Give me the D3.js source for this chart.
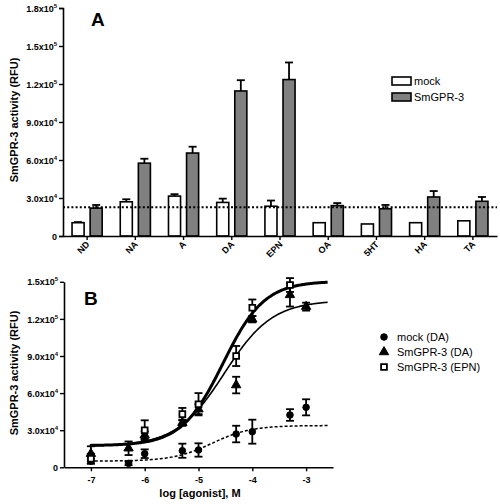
<!DOCTYPE html>
<html><head><meta charset="utf-8">
<script src="https://cdn.jsdelivr.net/npm/d3@7"></script>
<style>
body{margin:0;background:#fff;}
svg{display:block;}
svg text{font-family:"Liberation Sans",Arial,sans-serif;}
</style></head>
<body><svg id="c" width="500" height="504"></svg>
<script>
// ---- Panel A data ----
const categories = ["ND","NA","A","DA","EPN","OA","5HT","HA","TA"];
const groups = ["mock","SmGPR-3"];
const mockMeans = [10500, 27000, 31500, 26500, 23500, 10500, 9500, 10500, 12000];
const mockErr   = [500, 2000, 1500, 3000, 4500, 0, 0, 0, 0];
const smMeans   = [22000, 57500, 65500, 114500, 123500, 24000, 21500, 30800, 27400];
const smErr     = [2500, 3500, 5000, 8500, 13500, 2000, 3000, 4700, 3400];
const baselineA = 22600;
const yTicksA = [0, 30000, 60000, 90000, 120000, 150000, 180000];

// ---- Panel B data ----
const dosesDA   = [-7, -6.3, -6, -5.3, -5, -4.3, -4, -3.3, -3];
const mockDA    = [5000, 3200, 11000, 13400, 14000, 26900, 28800, 42300, 48500];
const mockDAerr = [2000, 1500, 3500, 5700, 5400, 6700, 9700, 4700, 6500];
const smDA      = [11000, 15400, 26000, 36000, 47000, 66500, 119700, 139400, 129900];
const smDAerr   = [6000, 5500, 3000, 2500, 4000, 6700, 2500, 9400, 3200];
const dosesEPN  = [-7, -6, -5.3, -5, -4.3, -4, -3.3];
const smEPN     = [7000, 30000, 43000, 51000, 90000, 129000, 147400];
const smEPNerr  = [4000, 8000, 5000, 9000, 8100, 6700, 5600];
// fitted sigmoid parameters: [bottom, top, logEC50, hill]
const fitMockDA = [5000, 33800, -4.75, 1.2];
const fitSmDA   = [17000, 135000, -4.52, 0.975];
const fitSmEPN  = [17500, 150500, -4.545, 1.13];
const xTicksB = [-7, -6, -5, -4, -3];
const yTicksB = [0, 30000, 60000, 90000, 120000, 150000];
const legendB = ["mock (DA)", "SmGPR-3 (DA)", "SmGPR-3 (EPN)"];

const svg = d3.select("#c");

function sciLabel(sel, v){
  if (v === 0){ sel.text("0"); return; }
  const e = Math.floor(Math.log10(v));
  const m = (v / Math.pow(10, e)).toFixed(1);
  sel.text(m + "x10");
  sel.append("tspan").attr("dy", -4).attr("font-size", 6).text(e);
}
function styleAxis(ax){
  ax.attr("font-family", null).attr("font-size", null);
  ax.select(".domain").attr("stroke-width", 1.6);
  ax.selectAll(".tick line").attr("stroke-width", 1.4);
}

// ================= Panel A =================
const xA = d3.scaleBand(categories, [63, 497]);
const xSub = d3.scaleBand(groups, [0, xA.bandwidth()]).paddingInner(1/3).paddingOuter(0.5);
const yA = d3.scaleLinear([0, 180000], [236, 8]);

const gA = svg.append("g");
const barData = [];
categories.forEach((c, i) => {
  barData.push({c, g: "mock", v: mockMeans[i], e: mockErr[i]});
  barData.push({c, g: "SmGPR-3", v: smMeans[i], e: smErr[i]});
});
gA.selectAll("g.eb").data(barData.filter(d => d.e > 0)).join("g").each(function(d){
  const cx = xA(d.c) + xSub(d.g) + xSub.bandwidth()/2;
  const g = d3.select(this);
  g.append("line").attr("x1", cx).attr("x2", cx).attr("y1", yA(d.v)).attr("y2", yA(d.v + d.e))
    .attr("stroke", "#000").attr("stroke-width", 1.8);
  g.append("line").attr("x1", cx - 4).attr("x2", cx + 4).attr("y1", yA(d.v + d.e)).attr("y2", yA(d.v + d.e))
    .attr("stroke", "#000").attr("stroke-width", 1.8);
});
gA.selectAll("rect.bar").data(barData).join("rect")
  .attr("x", d => xA(d.c) + xSub(d.g))
  .attr("y", d => yA(d.v))
  .attr("width", xSub.bandwidth())
  .attr("height", d => yA(0) - yA(d.v))
  .attr("fill", d => d.g === "mock" ? "#fff" : "#808080")
  .attr("stroke", "#000").attr("stroke-width", 1.6);

gA.append("line").attr("x1", 63).attr("x2", 497).attr("y1", yA(baselineA)).attr("y2", yA(baselineA))
  .attr("stroke", "#000").attr("stroke-width", 2).attr("stroke-dasharray", "2,2.2");

const yAxA = gA.append("g").attr("transform", "translate(63,0)")
  .call(d3.axisLeft(yA).tickValues(yTicksA).tickSize(4).tickFormat(""));
styleAxis(yAxA);
yAxA.selectAll(".tick").append("text").attr("x", -6).attr("dy", "0.35em")
  .attr("text-anchor", "end").attr("font-size", 9).attr("font-weight", "bold").attr("fill", "#000")
  .each(function(d){ sciLabel(d3.select(this), d); });

const xAxA = gA.append("g").attr("transform", "translate(0,236)")
  .call(d3.axisBottom(xA).tickSize(4).tickSizeOuter(0).tickFormat(""));
styleAxis(xAxA);
// rotated category labels
gA.append("g").selectAll("text").data(categories).join("text")
  .attr("transform", d => `translate(${xA(d) + xA.bandwidth()/2 + 3},${245}) rotate(-45)`)
  .attr("text-anchor", "end").attr("font-size", 9).attr("font-weight", "bold").attr("fill", "#000")
  .text(d => d);

gA.append("text").attr("transform", "translate(18,120) rotate(-90)").attr("text-anchor", "middle")
  .attr("font-size", 11).attr("font-weight", "bold").text("SmGPR-3 activity (RFU)");
gA.append("text").attr("x", 91).attr("y", 26).attr("font-size", 19).attr("font-weight", "bold").text("A");

groups.forEach((g, i) => {
  const y0 = 77 + i * 16;
  gA.append("rect").attr("x", 392).attr("y", y0).attr("width", 19).attr("height", 8)
    .attr("fill", g === "mock" ? "#fff" : "#808080").attr("stroke", "#000").attr("stroke-width", 1.6);
  gA.append("text").attr("x", 414).attr("y", y0 + 8).attr("font-size", 11).text(g);
});

// ================= Panel B =================
const xB = d3.scaleLinear([-7.5, -2.5], [64, 333]);
const yB = d3.scaleLinear([0, 150000], [467.3, 281.8]);
const gB = svg.append("g");

const yAxB = gB.append("g").attr("transform", "translate(64,0)")
  .call(d3.axisLeft(yB).tickValues(yTicksB).tickSize(4).tickSizeOuter(0).tickFormat(""));
styleAxis(yAxB);
yAxB.selectAll(".tick").append("text").attr("x", -6).attr("dy", "0.35em")
  .attr("text-anchor", "end").attr("font-size", 9).attr("font-weight", "bold").attr("fill", "#000")
  .each(function(d){ sciLabel(d3.select(this), d); });

const xAxB = gB.append("g").attr("transform", "translate(0,467.3)")
  .call(d3.axisBottom(xB).tickValues(xTicksB).tickSize(4).tickSizeOuter(0).tickFormat(""));
styleAxis(xAxB);
xAxB.selectAll(".tick").append("text").attr("y", 16).attr("text-anchor", "middle")
  .attr("font-size", 9).attr("font-weight", "bold").attr("fill", "#000").text(d => d);

gB.append("text").attr("transform", "translate(18,373) rotate(-90)").attr("text-anchor", "middle")
  .attr("font-size", 11).attr("font-weight", "bold").text("SmGPR-3 activity (RFU)");
gB.append("text").attr("x", 200).attr("y", 497).attr("text-anchor", "middle")
  .attr("font-size", 11).attr("font-weight", "bold").text("log [agonist], M");
gB.append("text").attr("x", 84).attr("y", 305).attr("font-size", 19).attr("font-weight", "bold").text("B");

function sig(p, x){ return p[0] + (p[1] - p[0]) / (1 + Math.pow(10, (p[2] - x) * p[3])); }
const xs = d3.range(-7.02, -2.59, 0.02);
const line = p => d3.line().x(d => xB(d)).y(d => yB(sig(p, d)))(xs);
gB.append("path").attr("d", line(fitMockDA)).attr("fill", "none").attr("stroke", "#000")
  .attr("stroke-width", 1.5).attr("stroke-dasharray", "3,2");
gB.append("path").attr("d", line(fitSmDA)).attr("fill", "none").attr("stroke", "#000").attr("stroke-width", 1.6);
gB.append("path").attr("d", line(fitSmEPN)).attr("fill", "none").attr("stroke", "#000").attr("stroke-width", 3);

function errBars(xv, yv, ev){
  const g = gB.append("g");
  xv.forEach((x, i) => {
    const cx = xB(x), y1 = yB(yv[i] - ev[i]), y2 = yB(yv[i] + ev[i]);
    g.append("line").attr("x1", cx).attr("x2", cx).attr("y1", y1).attr("y2", y2).attr("stroke", "#000").attr("stroke-width", 1.8);
    [y1, y2].forEach(yy => g.append("line").attr("x1", cx - 4).attr("x2", cx + 4).attr("y1", yy).attr("y2", yy)
      .attr("stroke", "#000").attr("stroke-width", 1.8));
  });
}
errBars(dosesDA, mockDA, mockDAerr);
errBars(dosesDA, smDA, smDAerr);
errBars(dosesEPN, smEPN, smEPNerr);

const symCircle = d3.symbol(d3.symbolCircle, 34)();
const symTri = d3.symbol(d3.symbolTriangle, 38)();
const symSq = d3.symbol(d3.symbolSquare, 34)();
function points(xv, yv, path, filled){
  gB.append("g").selectAll("path").data(xv).join("path")
    .attr("d", path)
    .attr("transform", (d, i) => `translate(${xB(d)},${yB(yv[i])})`)
    .attr("fill", filled ? "#000" : "#fff").attr("stroke", "#000").attr("stroke-width", filled ? 1 : 1.8);
}
points(dosesDA, mockDA, symCircle, true);
points(dosesDA, smDA, symTri, true);
points(dosesEPN, smEPN, symSq, false);

const legSyms = [[symCircle, true], [symTri, true], [symSq, false]];
legendB.forEach((t, i) => {
  const y0 = 337 + i * 15;
  gB.append("path").attr("d", legSyms[i][0]).attr("transform", `translate(384,${y0})`)
    .attr("fill", legSyms[i][1] ? "#000" : "#fff").attr("stroke", "#000").attr("stroke-width", legSyms[i][1] ? 1 : 1.8);
  gB.append("text").attr("x", 397).attr("y", y0 + 4).attr("font-size", 11).text(t);
});
</script></body></html>
